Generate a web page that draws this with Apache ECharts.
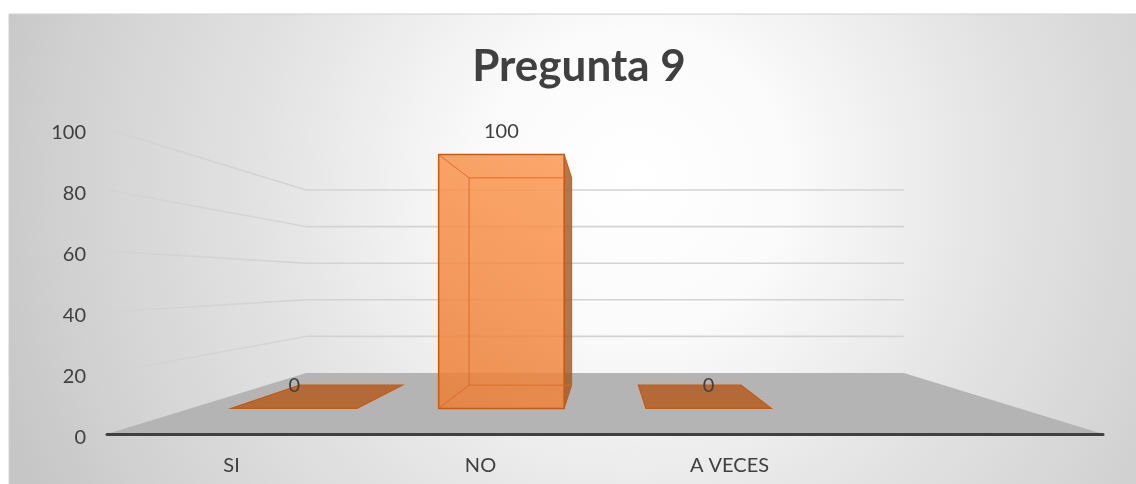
<!DOCTYPE html>
<html>
<head>
<meta charset="utf-8">
<script src="https://cdn.jsdelivr.net/npm/echarts@6/dist/echarts.min.js"></script>
<style>
  html, body { margin: 0; padding: 0; background: #fff; }
  #chart { width: 1136px; height: 484px; }
</style>
</head>
<body>
<div id="chart"></div>
<script>
// datos del grafico
const categories = ['SI', 'NO', 'A VECES', ''];
const values = [0, 100, 0];
const yTicks = [0, 20, 40, 60, 80, 100];

// perspectiva tipo excel 3D: punto de fuga en el centro del grid
const BACK_SCALE = 0.6;
const DEPTH_FRONT = 0.42;
const DEPTH_BACK = 0.8;
const BAR_HALF = 0.303;

function proj(cs, x, y, d) {
  const vx = cs.x + cs.width / 2;
  const vy = cs.y + cs.height / 2;
  const s = 1 - (1 - BACK_SCALE) * d;
  return [vx + (x - vx) * s, vy + (y - vy) * s];
}

// piso + lineas de division
function renderWalls(params, api) {
  const cs = params.coordSys;
  const v = api.value(1);
  const y = api.coord([0, v])[1];
  const left = cs.x, right = cs.x + cs.width;
  const children = [];
  if (v === 0) {
    children.push({
      type: 'polygon',
      shape: { points: [[left, y], proj(cs, left, y, 1), proj(cs, right, y, 1), [right, y]] },
      style: { fill: '#b4b4b4' }
    });
  } else {
    const a = proj(cs, left, y, 1), b = proj(cs, right, y, 1);
    children.push({
      type: 'line',
      shape: { x1: left, y1: y, x2: a[0], y2: a[1] },
      style: { stroke: '#d3d3d3', lineWidth: 1.4 }
    });
    children.push({
      type: 'line',
      shape: { x1: a[0], y1: a[1], x2: b[0], y2: b[1] },
      style: { stroke: '#d3d3d3', lineWidth: 1.6 }
    });
  }
  return { type: 'group', children: children };
}

function renderBar(params, api) {
  const cs = params.coordSys;
  const idx = api.value(0);
  const v = api.value(1);
  const p0 = api.coord([idx, 0]);
  const p1 = api.coord([idx, v]);
  const band = api.size([1, 0])[0];
  const xl = p0[0] - band * BAR_HALF, xr = p0[0] + band * BAR_HALF;
  const yb = p0[1], yt = p1[1];
  const F = (x, y) => proj(cs, x, y, DEPTH_FRONT);
  const B = (x, y) => proj(cs, x, y, DEPTH_BACK);
  const children = [];
  const edge = '#c55a11';
  if (v === 0) {
    children.push({
      type: 'polygon',
      shape: { points: [F(xl, yb), B(xl, yb), B(xr, yb), F(xr, yb)] },
      style: { fill: '#b36a36', stroke: edge, lineWidth: 1.2 }
    });
  } else {
    const fTL = F(xl, yt), fTR = F(xr, yt), fBL = F(xl, yb), fBR = F(xr, yb);
    const bTL = B(xl, yt), bTR = B(xr, yt), bBL = B(xl, yb), bBR = B(xr, yb);
    // cara derecha
    children.push({
      type: 'polygon',
      shape: { points: [fTR, bTR, bBR, fBR] },
      style: { fill: 'rgba(160,85,30,0.8)', stroke: edge, lineWidth: 1 }
    });
    // cara frontal
    children.push({
      type: 'polygon',
      shape: { points: [fTL, fTR, fBR, fBL] },
      style: {
        fill: new echarts.graphic.LinearGradient(1, 0, 0, 1, [
          { offset: 0, color: 'rgba(252,150,80,0.84)' },
          { offset: 1, color: 'rgba(236,125,52,0.84)' }
        ]),
        stroke: edge, lineWidth: 1.5
      }
    });
    // aristas traseras vistas por transparencia
    const inner = { stroke: 'rgba(215,105,35,0.9)', lineWidth: 1 };
    children.push({ type: 'polyline', shape: { points: [bTR, bTL, bBL, bBR] }, style: Object.assign({ fill: null }, inner) });
    children.push({ type: 'line', shape: { x1: fTL[0], y1: fTL[1], x2: bTL[0], y2: bTL[1] }, style: inner });
    children.push({ type: 'line', shape: { x1: fBL[0], y1: fBL[1], x2: bBL[0], y2: bBL[1] }, style: inner });
  }
  const c = F((xl + xr) / 2, yt);
  children.push({
    type: 'text',
    style: {
      text: String(v), x: c[0], y: c[1] - 23,
      align: 'center', verticalAlign: 'middle',
      textAlign: 'center', textVerticalAlign: 'middle',
      font: '20px Lato', fill: '#404040'
    }
  });
  return { type: 'group', children: children };
}

const chart = echarts.init(document.getElementById('chart'));
chart.setOption({
  backgroundColor: '#ffffff',
  animation: false,
  graphic: [{
    type: 'rect',
    z: -10,
    silent: true,
    shape: { x: 9, y: 14, width: 1140, height: 480 },
    style: {
      fill: new echarts.graphic.RadialGradient(0.55, 0.35, 1.4, [
        { offset: 0, color: '#ffffff' },
        { offset: 0.22, color: '#fbfbfb' },
        { offset: 0.55, color: '#e3e3e3' },
        { offset: 0.85, color: '#d1d1d1' },
        { offset: 1, color: '#c6c6c6' }
      ]),
      stroke: '#d0d0d0', lineWidth: 1
    }
  }],
  title: {
    text: 'Pregunta 9',
    left: 574,
    top: 40,
    textAlign: 'center',
    textStyle: { fontFamily: 'Lato', fontWeight: 'bold', fontSize: 44, color: '#404040' }
  },
  grid: { left: 107, right: 33, top: 129, bottom: 50 },
  xAxis: {
    type: 'category',
    data: categories,
    z: 5,
    axisTick: { show: false },
    axisLine: { lineStyle: { color: '#404040', width: 3, cap: 'round' } },
    axisLabel: { color: '#404040', fontFamily: 'Lato', fontSize: 20, margin: 22 },
    splitLine: { show: false }
  },
  yAxis: {
    type: 'value',
    min: 0, max: 100, interval: 20,
    axisLine: { show: false },
    axisTick: { show: false },
    splitLine: { show: false },
    axisLabel: {
      color: '#404040', fontFamily: 'Lato', fontSize: 20, margin: 21,
      verticalAlign: 'top', lineHeight: 7
    }
  },
  series: [
    {
      type: 'custom',
      z: 1,
      silent: true,
      renderItem: renderWalls,
      data: yTicks.map(t => [0, t])
    },
    {
      type: 'custom',
      z: 3,
      renderItem: renderBar,
      data: values.map((v, i) => [i, v])
    }
  ]
});
</script>
</body>
</html>
